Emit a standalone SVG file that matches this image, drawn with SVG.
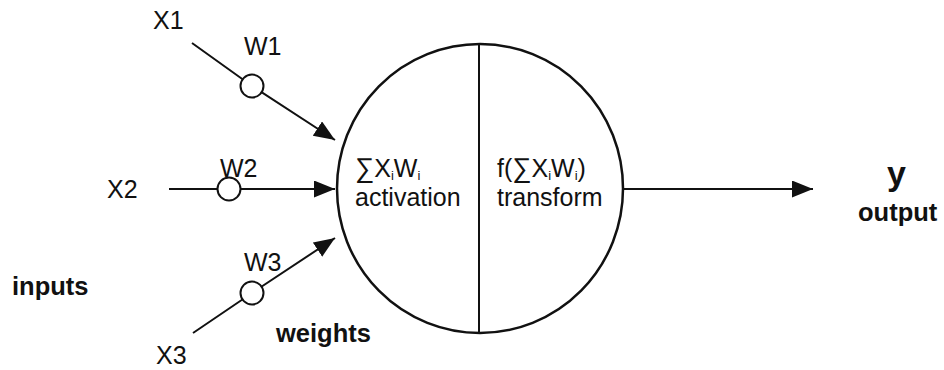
<svg xmlns="http://www.w3.org/2000/svg" width="944" height="370" viewBox="0 0 944 370">
<defs>
<style>
.t{font-family:"Liberation Sans",Arial,Helvetica,sans-serif;font-size:25px;fill:#111}
.b{font-family:"Liberation Sans",Arial,Helvetica,sans-serif;font-size:25.5px;font-weight:bold;fill:#111}
.ln{stroke:#111;stroke-width:2;fill:none}
.w{stroke:#111;stroke-width:2;fill:#fff}
.sub{font-size:13px}
.sig{font-size:27px}
</style>
<marker id="ah" markerUnits="userSpaceOnUse" markerWidth="22" markerHeight="18" refX="21" refY="8.5" orient="auto">
<path d="M0,0 L21,8.5 L0,17 z" fill="#111"/>
</marker>
</defs>
<rect width="944" height="370" fill="#fff"/>
<g id="connectors">
<path class="ln" d="M192,43 L252,86 L335,140" marker-end="url(#ah)"/>
<path class="ln" d="M169,189 L335,189" marker-end="url(#ah)"/>
<path class="ln" d="M193,333 L252,293 L335,238" marker-end="url(#ah)"/>
<path class="ln" d="M623,189 L813,189" marker-end="url(#ah)"/>
</g>
<g id="w1"><circle class="w" cx="252" cy="86" r="11.5"/><text class="t" x="244" y="55">W1</text></g>
<g id="w2"><circle class="w" cx="229" cy="189" r="11.5"/><text class="t" x="220" y="177">W2</text></g>
<g id="w3"><circle class="w" cx="252" cy="293" r="11.5"/><text class="t" x="244" y="271">W3</text></g>
<g id="x1"><text class="t" x="153" y="29">X1</text></g>
<g id="x2"><text class="t" x="107" y="198">X2</text></g>
<g id="x3"><text class="t" x="156" y="364">X3</text></g>
<g id="neuron">
<ellipse cx="480" cy="188.5" rx="143" ry="144.5" fill="none" stroke="#111" stroke-width="2.5"/>
<line x1="479" y1="44" x2="479" y2="333" stroke="#111" stroke-width="2"/>
<text class="t" x="355" y="177"><tspan class="sig">∑</tspan>X<tspan class="sub" dy="3">i</tspan><tspan dy="-3">W</tspan><tspan class="sub" dy="3">i</tspan></text>
<text class="t" x="355" y="206">activation</text>
<text class="t" x="497" y="177">f(<tspan class="sig">∑</tspan>X<tspan class="sub" dy="3">i</tspan><tspan dy="-3">W</tspan><tspan class="sub" dy="3">i</tspan><tspan dy="-3">)</tspan></text>
<text class="t" x="497" y="206">transform</text>
</g>
<g id="output"><text class="b" x="887" y="185" style="font-size:34px">y</text><text class="b" x="858" y="221">output</text></g>
<g id="inputs"><text class="b" x="12" y="295">inputs</text></g>
<g id="weights"><text class="b" x="276" y="342">weights</text></g>
</svg>
